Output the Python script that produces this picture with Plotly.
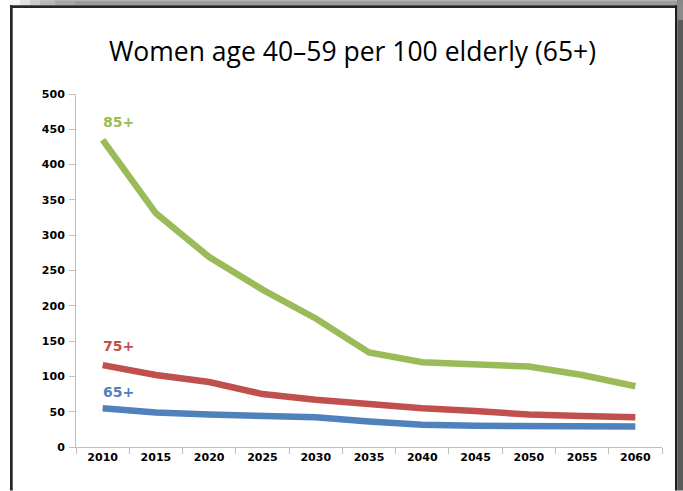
import plotly.graph_objects as go

years = ["2010", "2015", "2020", "2025", "2030", "2035", "2040", "2045", "2050", "2055", "2060"]
age85 = [435, 331, 269, 223, 182, 134, 120, 118, 114, 102, 86]
age75 = [116, 102, 92, 75, 67, 60, 55, 51, 46, 44, 42]
age65 = [55, 49, 46, 44.5, 42, 36, 31.5, 30, 30, 30, 29]
yticks = [0, 50, 100, 150, 200, 250, 300, 350, 400, 450, 500]

series = [("65+", age65, "#4F81BD"), ("75+", age75, "#C0504D"), ("85+", age85, "#9BBB59")]

W, H = 683, 491
ML, MR, MT, MB = 76, 21, 94, 43.5
PW, PH = W - ML - MR, H - MT - MB

def px(x):
    return (x - ML) / PW

def py(y):
    return (H - MB - y) / PH

fig = go.Figure()
for name, vals, col in series:
    fig.add_trace(go.Scatter(x=years, y=vals, mode="lines", name=name,
                             line=dict(color=col, width=6.5), hoverinfo="skip"))

# series labels placed just above the first data point
label_offsets = {"85+": 18, "75+": 19, "65+": 16}
for name, vals, col in series:
    fig.add_annotation(x=0, y=vals[0], xref="x", yref="y", text=name, showarrow=False,
                       xanchor="left", yanchor="middle", xshift=-2, yshift=label_offsets[name],
                       font=dict(family="DejaVu Sans", size=14, color=col, weight="bold"))

shapes = []
# top gradient strip
steps = [(10, 20, "#f4f4f4"), (20, 30, "#e0e0e0"), (30, 40, "#cccccc"), (40, 55, "#b8b8b8"),
         (55, 75, "#a8a8a8"), (75, 683, "#9c9c9c")]
for x0, x1, c in steps:
    shapes.append(dict(type="rect", xref="paper", yref="paper", x0=px(x0), x1=px(x1),
                       y0=py(5), y1=py(0), fillcolor=c, line=dict(width=0), layer="below"))
# dark top line
shapes.append(dict(type="rect", xref="paper", yref="paper", x0=px(10), x1=px(677.3),
                   y0=py(8), y1=py(5), fillcolor="#262626", line=dict(width=0)))
# left dark line
shapes.append(dict(type="rect", xref="paper", yref="paper", x0=px(10), x1=px(12.7),
                   y0=py(491), y1=py(5), fillcolor="#262626", line=dict(width=0)))
# right dark line + gray band
shapes.append(dict(type="rect", xref="paper", yref="paper", x0=px(675), x1=px(677.3),
                   y0=py(491), y1=py(5), fillcolor="#1e1e1e", line=dict(width=0)))
shapes.append(dict(type="rect", xref="paper", yref="paper", x0=px(677.3), x1=px(683),
                   y0=py(491), y1=py(0), fillcolor="#5a5a5a", line=dict(width=0)))
shapes.append(dict(type="rect", xref="paper", yref="paper", x0=px(677.3), x1=px(683),
                   y0=py(20), y1=py(0), fillcolor="#8a8a8a", line=dict(width=0)))

fig.update_layout(
    width=W, height=H,
    margin=dict(l=ML, r=MR, t=MT, b=MB, pad=0),
    paper_bgcolor="white", plot_bgcolor="white",
    showlegend=False,
    shapes=shapes,
    title=dict(text="Women age 40–59 per 100 elderly (65+)", x=352.5 / W, xanchor="center",
               y=1 - 52 / H, yanchor="middle",
               font=dict(family="Open Sans", size=26.5, color="#000000")),
    xaxis=dict(type="category", categoryorder="array", categoryarray=years,
               range=[-0.5, 10.5], tickson="boundaries", ticks="outside", ticklen=6,
               tickcolor="#bfbfbf", showline=True, linecolor="#bfbfbf", linewidth=1,
               showgrid=False, zeroline=False,
               tickfont=dict(family="DejaVu Sans", size=11, color="#000000", weight="bold")),
    yaxis=dict(range=[0, 500], tickvals=yticks, ticks="outside", ticklen=6,
               tickcolor="#bfbfbf", showline=True, linecolor="#bfbfbf", linewidth=1,
               showgrid=False, zeroline=False, ticklabelstandoff=2,
               tickfont=dict(family="DejaVu Sans", size=11, color="#000000", weight="bold")),
)

fig.write_html("out.html", config={"displayModeBar": False},
               post_script="document.body.style.margin='0';")
